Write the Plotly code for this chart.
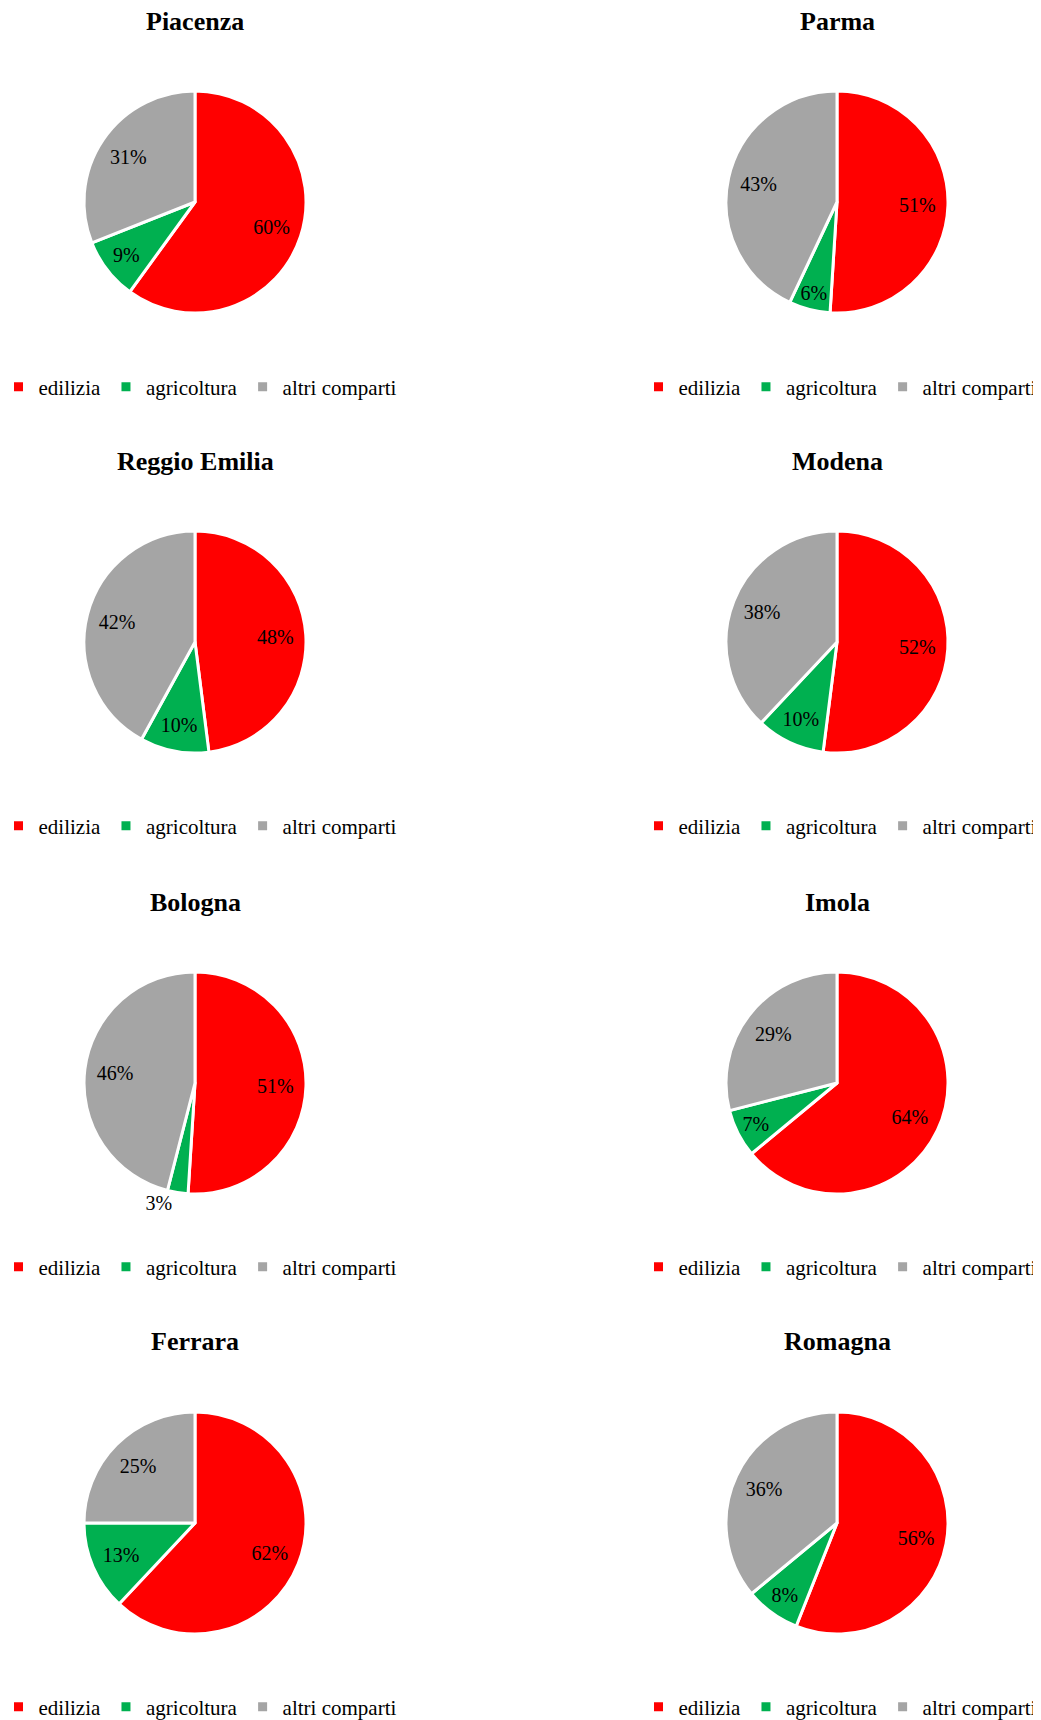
import plotly.graph_objects as go

W, H = 1041, 1720
OFF = 8  # page body margin added by the browser around the plot div

areas = ["Piacenza", "Parma", "Reggio Emilia", "Modena", "Bologna", "Imola", "Ferrara", "Romagna"]
categories = ["edilizia", "agricoltura", "altri comparti"]
edilizia = [60, 51, 48, 52, 51, 64, 62, 56]
agricoltura = [9, 6, 10, 10, 3, 7, 13, 8]
altri = [31, 43, 42, 38, 46, 29, 25, 36]
colors = ["#FF0000", "#00B050", "#A5A5A5"]

col_cx = [195, 837]
legend_cx = [200, 840]
row_cy = [202, 642, 1083, 1523]
title_y = [22, 461, 902, 1341]
legend_y = [387, 826, 1267, 1707]
R = 111

FONT = "Liberation Serif, Times New Roman, serif"


def px(x):
    return (x - OFF) / W


def py(y):
    return 1 - (y - OFF) / H


fig = go.Figure()
annotations = []
for i, name in enumerate(areas):
    r, c = divmod(i, 2)
    cx, cy = col_cx[c], row_cy[r]
    vals = [edilizia[i], agricoltura[i], altri[i]]
    pos = ["inside"] * 3
    if agricoltura[i] < 5:
        pos[1] = "outside"
    lg = "legend" if i == 0 else f"legend{i+1}"
    # empty spans keep each pie's legend entries separate (plotly merges equal pie labels)
    labels = [lab + "<span></span>" * i for lab in categories]
    dom = dict(x=[px(cx - R), px(cx + R)], y=[py(cy + R), py(cy - R)])
    # coloured slices
    fig.add_trace(go.Pie(
        labels=labels, values=vals, sort=False, direction="clockwise", rotation=0,
        marker=dict(colors=colors, line=dict(color="white", width=3)),
        textinfo="none", domain=dom,
        legend=lg, hoverinfo="label+percent", showlegend=True,
    ))
    # transparent ring carrying the percentage labels further out, like the original
    fig.add_trace(go.Pie(
        labels=labels, values=vals, sort=False, direction="clockwise", rotation=0, hole=0.45,
        marker=dict(colors=["rgba(0,0,0,0)"] * 3, line=dict(width=0)),
        texttemplate="%{percent:.0%}",
        textposition=pos, insidetextorientation="horizontal",
        textfont=dict(family=FONT, size=20, color="black"),
        domain=dom, hoverinfo="skip", showlegend=False, legend=lg,
    ))
    annotations.append(dict(
        text=f"<b>{name}</b>", x=px(cx), y=py(title_y[r]), xref="paper", yref="paper",
        xanchor="center", yanchor="middle", showarrow=False,
        font=dict(family=FONT, size=26, color="black"),
    ))
    fig.layout[lg] = dict(
        orientation="h", x=px(legend_cx[c]), y=py(legend_y[r]), xanchor="center", yanchor="middle",
        font=dict(family=FONT, size=21, color="black"), bgcolor="rgba(0,0,0,0)",
        itemclick=False, itemdoubleclick=False,
    )

fig.update_layout(
    width=W, height=H, margin=dict(l=0, r=0, t=0, b=0, autoexpand=False),
    paper_bgcolor="white", plot_bgcolor="white",
    annotations=annotations,
    uniformtext=dict(minsize=20, mode="show"),
)

fig.write_html("out.html")
